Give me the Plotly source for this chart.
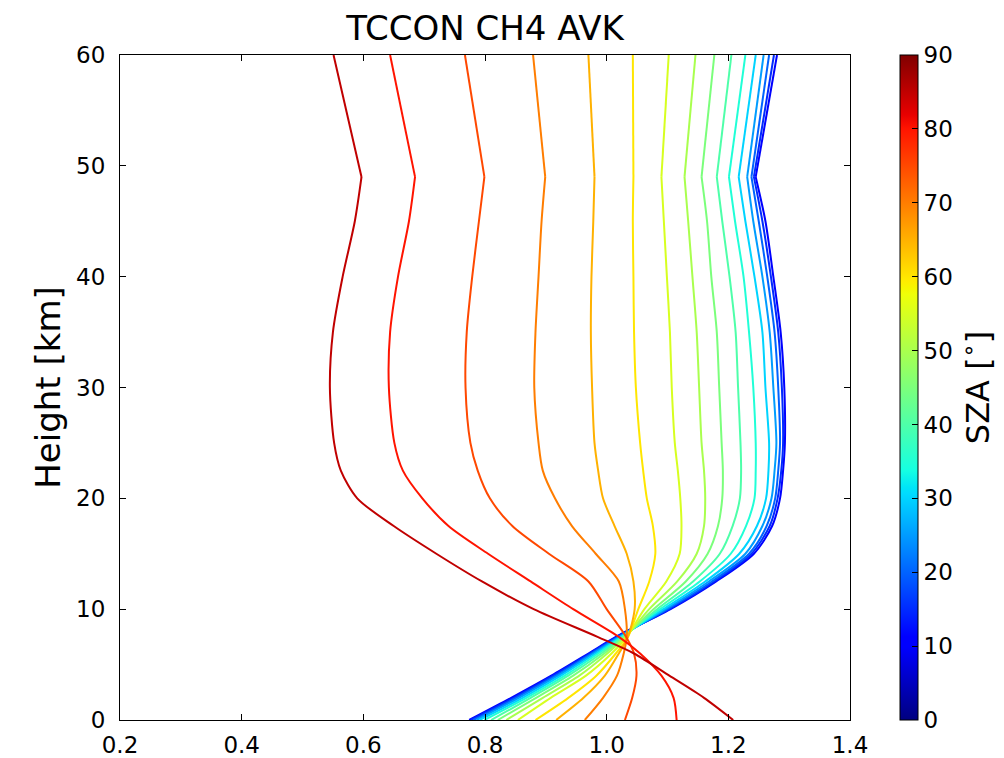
import numpy as np
import plotly.graph_objects as go

# Heights [km] at which AVK values were read
heights = [0, 2, 4, 6, 7.5, 10, 12.5, 15, 17.5, 20, 22.5, 25, 30, 35, 40, 45, 49, 60]

# Solar zenith angles [deg]
sza_values = [10, 15, 20, 25, 30, 35, 40, 45, 50, 55, 60, 65, 70, 75, 80, 85]

# Column averaging kernel values per SZA (same order as heights)
avk_sza10 = [0.774, 0.843, 0.909, 0.970, 1.015, 1.105, 1.180, 1.242, 1.272, 1.285, 1.290, 1.293, 1.292, 1.286, 1.274, 1.261, 1.245, 1.280]
avk_sza15 = [0.777, 0.847, 0.912, 0.972, 1.017, 1.103, 1.177, 1.238, 1.268, 1.281, 1.287, 1.290, 1.288, 1.282, 1.270, 1.256, 1.242, 1.275]
avk_sza20 = [0.781, 0.851, 0.916, 0.975, 1.019, 1.100, 1.173, 1.234, 1.263, 1.277, 1.282, 1.285, 1.282, 1.276, 1.264, 1.250, 1.238, 1.267]
avk_sza25 = [0.786, 0.856, 0.920, 0.978, 1.021, 1.097, 1.168, 1.228, 1.256, 1.271, 1.276, 1.279, 1.274, 1.268, 1.256, 1.241, 1.231, 1.258]
avk_sza30 = [0.791, 0.862, 0.925, 0.982, 1.023, 1.093, 1.162, 1.218, 1.247, 1.262, 1.266, 1.267, 1.261, 1.256, 1.243, 1.228, 1.217, 1.245]
avk_sza35 = [0.799, 0.868, 0.931, 0.986, 1.025, 1.088, 1.153, 1.204, 1.229, 1.243, 1.245, 1.245, 1.241, 1.234, 1.225, 1.211, 1.201, 1.228]
avk_sza40 = [0.810, 0.875, 0.937, 0.991, 1.027, 1.083, 1.142, 1.186, 1.207, 1.219, 1.221, 1.220, 1.216, 1.212, 1.202, 1.190, 1.181, 1.205]
avk_sza45 = [0.821, 0.884, 0.945, 0.996, 1.029, 1.077, 1.130, 1.166, 1.183, 1.190, 1.191, 1.189, 1.185, 1.181, 1.172, 1.165, 1.156, 1.177]
avk_sza50 = [0.835, 0.895, 0.955, 1.001, 1.031, 1.070, 1.116, 1.148, 1.160, 1.162, 1.160, 1.156, 1.152, 1.148, 1.141, 1.134, 1.128, 1.146]
avk_sza55 = [0.854, 0.908, 0.966, 1.008, 1.033, 1.062, 1.098, 1.120, 1.123, 1.121, 1.117, 1.112, 1.107, 1.104, 1.099, 1.094, 1.090, 1.102]
avk_sza60 = [0.883, 0.937, 0.983, 1.015, 1.035, 1.052, 1.070, 1.080, 1.076, 1.066, 1.060, 1.055, 1.048, 1.045, 1.044, 1.043, 1.044, 1.043]
avk_sza65 = [0.917, 0.962, 0.997, 1.020, 1.035, 1.046, 1.044, 1.033, 1.013, 0.994, 0.986, 0.980, 0.976, 0.974, 0.975, 0.978, 0.980, 0.970]
avk_sza70 = [0.964, 0.994, 1.017, 1.028, 1.033, 1.030, 1.020, 0.982, 0.943, 0.915, 0.895, 0.888, 0.881, 0.883, 0.888, 0.893, 0.899, 0.879]
avk_sza75 = [1.030, 1.042, 1.049, 1.045, 1.032, 1.000, 0.970, 0.905, 0.845, 0.808, 0.788, 0.776, 0.768, 0.770, 0.779, 0.790, 0.799, 0.767]
avk_sza80 = [1.115, 1.110, 1.090, 1.055, 1.020, 0.945, 0.875, 0.805, 0.740, 0.697, 0.665, 0.651, 0.642, 0.644, 0.657, 0.675, 0.685, 0.644]
avk_sza85 = [1.208, 1.160, 1.103, 1.045, 0.985, 0.880, 0.795, 0.720, 0.650, 0.590, 0.563, 0.552, 0.545, 0.550, 0.566, 0.586, 0.597, 0.551]

avk_series = [avk_sza10, avk_sza15, avk_sza20, avk_sza25, avk_sza30, avk_sza35,
              avk_sza40, avk_sza45, avk_sza50, avk_sza55, avk_sza60, avk_sza65,
              avk_sza70, avk_sza75, avk_sza80, avk_sza85]

kink_height = 49  # curves are smooth below, straight above this level

x_ticks = [0.2, 0.4, 0.6, 0.8, 1.0, 1.2, 1.4]
y_ticks = [0, 10, 20, 30, 40, 50, 60]
cbar_ticks = [0, 10, 20, 30, 40, 50, 60, 70, 80, 90]
sza_min, sza_max = 0, 90

# matplotlib "jet" colormap definition
_jet_r = [(0, 0), (0.35, 0), (0.66, 1), (0.89, 1), (1, 0.5)]
_jet_g = [(0, 0), (0.125, 0), (0.375, 1), (0.64, 1), (0.91, 0), (1, 0)]
_jet_b = [(0, 0.5), (0.11, 1), (0.34, 1), (0.65, 0), (1, 0)]


def jet(t):
    ch = []
    for seg in (_jet_r, _jet_g, _jet_b):
        xs = [p[0] for p in seg]
        ys = [p[1] for p in seg]
        ch.append(int(round(255 * float(np.interp(t, xs, ys)))))
    return "rgb({},{},{})".format(*ch)


stops = sorted(set(p[0] for seg in (_jet_r, _jet_g, _jet_b) for p in seg))
jet_scale = [[s, jet(s)] for s in stops]

fig = go.Figure()

k = heights.index(kink_height)
for sza, vals in zip(sza_values, avk_series):
    col = jet((sza - sza_min) / (sza_max - sza_min))
    # smooth lower part
    fig.add_trace(go.Scatter(
        x=vals[:k + 1], y=heights[:k + 1], mode="lines",
        line=dict(color=col, width=2, shape="spline", smoothing=0.8),
        name="SZA {}".format(sza), showlegend=False,
    ))
    # straight upper part above the kink
    fig.add_trace(go.Scatter(
        x=vals[k:], y=heights[k:], mode="lines",
        line=dict(color=col, width=2),
        name="SZA {}".format(sza), showlegend=False,
    ))

# colorbar carrier
fig.add_trace(go.Scatter(
    x=[None], y=[None], mode="markers", showlegend=False, hoverinfo="skip",
    marker=dict(
        color=[sza_min], cmin=sza_min, cmax=sza_max, colorscale=jet_scale,
        showscale=True,
        colorbar=dict(
            thickness=18, len=1, lenmode="fraction", y=0.5, yanchor="middle",
            x=1.0685, xanchor="left", xpad=0, ypad=0,
            outlinewidth=1, outlinecolor="black",
            tickvals=cbar_ticks, ticks="inside", ticklen=6, tickcolor="black",
            tickfont=dict(family="DejaVu Sans", size=23, color="black"),
            title=dict(text="SZA [<sup>∘</sup>]", side="right",
                       font=dict(family="DejaVu Sans", size=32, color="black")),
        ),
    ),
))

axis_common = dict(
    showline=True, linecolor="black", linewidth=1, mirror="ticks",
    ticks="inside", ticklen=6, tickcolor="black", showgrid=False, zeroline=False,
    automargin=False,
    tickfont=dict(family="DejaVu Sans", size=23, color="black"),
)

# the page body adds an 8 px offset, so the figure is 8 px smaller on each side
fig.update_layout(
    width=996, height=750,
    margin=dict(l=112, r=154, t=47, b=38, autoexpand=False),
    paper_bgcolor="white", plot_bgcolor="white",
    title=dict(text="TCCON CH4 AVK", x=0.5, xref="paper", xanchor="center",
               y=1 - 20 / 750, yref="container", yanchor="middle",
               font=dict(family="DejaVu Sans", size=34, color="black")),
    xaxis=dict(range=[0.2, 1.4], tickvals=x_ticks, ticklabelstandoff=4,
               ticktext=["{:.1f}".format(v) for v in x_ticks], **axis_common),
    yaxis=dict(range=[0, 60], tickvals=y_ticks, ticklabelstandoff=9,
               title=dict(text="Height [km]", standoff=5,
                          font=dict(family="DejaVu Sans", size=34, color="black")),
               **axis_common),
)

fig.write_html("out.html")
